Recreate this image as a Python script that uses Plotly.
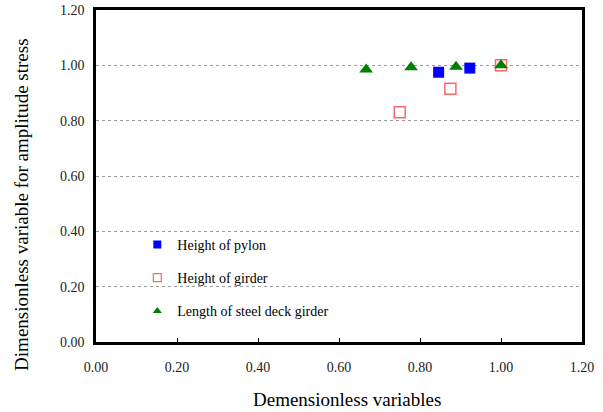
import plotly.graph_objects as go

# Dimensionless variable vs. dimensionless amplitude stress
pylon_x = [0.846, 0.923]
pylon_y = [0.975, 0.99]

girder_x = [0.75, 0.875, 1.00]
girder_y = [0.83, 0.915, 1.00]

deck_x = [0.667, 0.778, 0.889, 1.00]
deck_y = [0.985, 0.993, 0.995, 1.00]

tick_vals = [0.0, 0.2, 0.4, 0.6, 0.8, 1.0, 1.2]
tick_text = ["0.00", "0.20", "0.40", "0.60", "0.80", "1.00", "1.20"]

names = ["Height of pylon", "Height of girder", "Length of steel deck girder"]
x_title = "Demensionless variables"
y_title = "Dimensionless variable for amplitude stress"

FONT = "'Times New Roman', 'Liberation Serif', Times, serif"

series = [
    (pylon_x, pylon_y, dict(symbol="square", size=11, color="#0000FF",
                            line=dict(width=0))),
    (girder_x, girder_y, dict(symbol="square-open", size=11, color="#FF6666",
                              line=dict(width=1.5, color="#FF6666"))),
    (deck_x, deck_y, dict(symbol="triangle-up", size=12, color="#008000",
                          line=dict(width=0))),
]
legend_markers = [
    dict(symbol="square", size=8, color="#0000FF", line=dict(width=0)),
    dict(symbol="square-open", size=8, color="#FF6666",
         line=dict(width=1.2, color="#FF6666")),
    dict(symbol="triangle-up", size=8, color="#008000", line=dict(width=0)),
]

fig = go.Figure()
for i, ((xs, ys, mk), name) in enumerate(zip(series, names)):
    fig.add_trace(go.Scatter(x=xs, y=ys, mode="markers", name=name,
                             legendgroup=f"g{i}", showlegend=False,
                             marker=mk))
# legend keys with smaller symbols
for i, (name, mk) in enumerate(zip(names, legend_markers)):
    fig.add_trace(go.Scatter(x=[None], y=[None], mode="markers", name=name,
                             legendgroup=f"g{i}", showlegend=True,
                             marker=mk))

axis_common = dict(
    range=[0, 1.2], tickvals=tick_vals, ticktext=tick_text,
    showline=True, linecolor="black", linewidth=2.5, mirror=True,
    zeroline=False, automargin=False,
    tickfont=dict(family=FONT, size=14, color="#222222"),
)

fig.update_xaxes(
    **axis_common, showgrid=False,
    ticks="inside", ticklen=4, tickcolor="black", tickwidth=1,
    ticklabelstandoff=10,
)
fig.update_yaxes(
    **axis_common, ticks="",
    showgrid=True, gridcolor="#9a9a9a", griddash="dot", gridwidth=1,
    ticklabelstandoff=6,
)

# axis titles
fig.add_annotation(text=x_title, xref="paper", yref="paper",
                   x=0.5, y=0, xanchor="center", yanchor="middle",
                   xshift=8, yshift=-57, showarrow=False,
                   font=dict(family=FONT, size=19, color="black"))
fig.add_annotation(text=y_title, xref="paper", yref="paper",
                   x=0, y=0.413, xanchor="center", yanchor="middle",
                   xshift=-74, textangle=-90, showarrow=False,
                   font=dict(family=FONT, size=19, color="black"))

fig.update_layout(
    width=603, height=412,
    margin=dict(l=96, r=21, t=10, b=70),
    font=dict(family=FONT, color="black"),
    paper_bgcolor="white", plot_bgcolor="white",
    showlegend=True,
    legend=dict(
        x=0.085, y=0.193, xanchor="left", yanchor="middle",
        bgcolor="rgba(0,0,0,0)", borderwidth=0,
        font=dict(family=FONT, size=14, color="black"),
        tracegroupgap=12, itemwidth=30,
    ),
)

fig.write_html("out.html")
